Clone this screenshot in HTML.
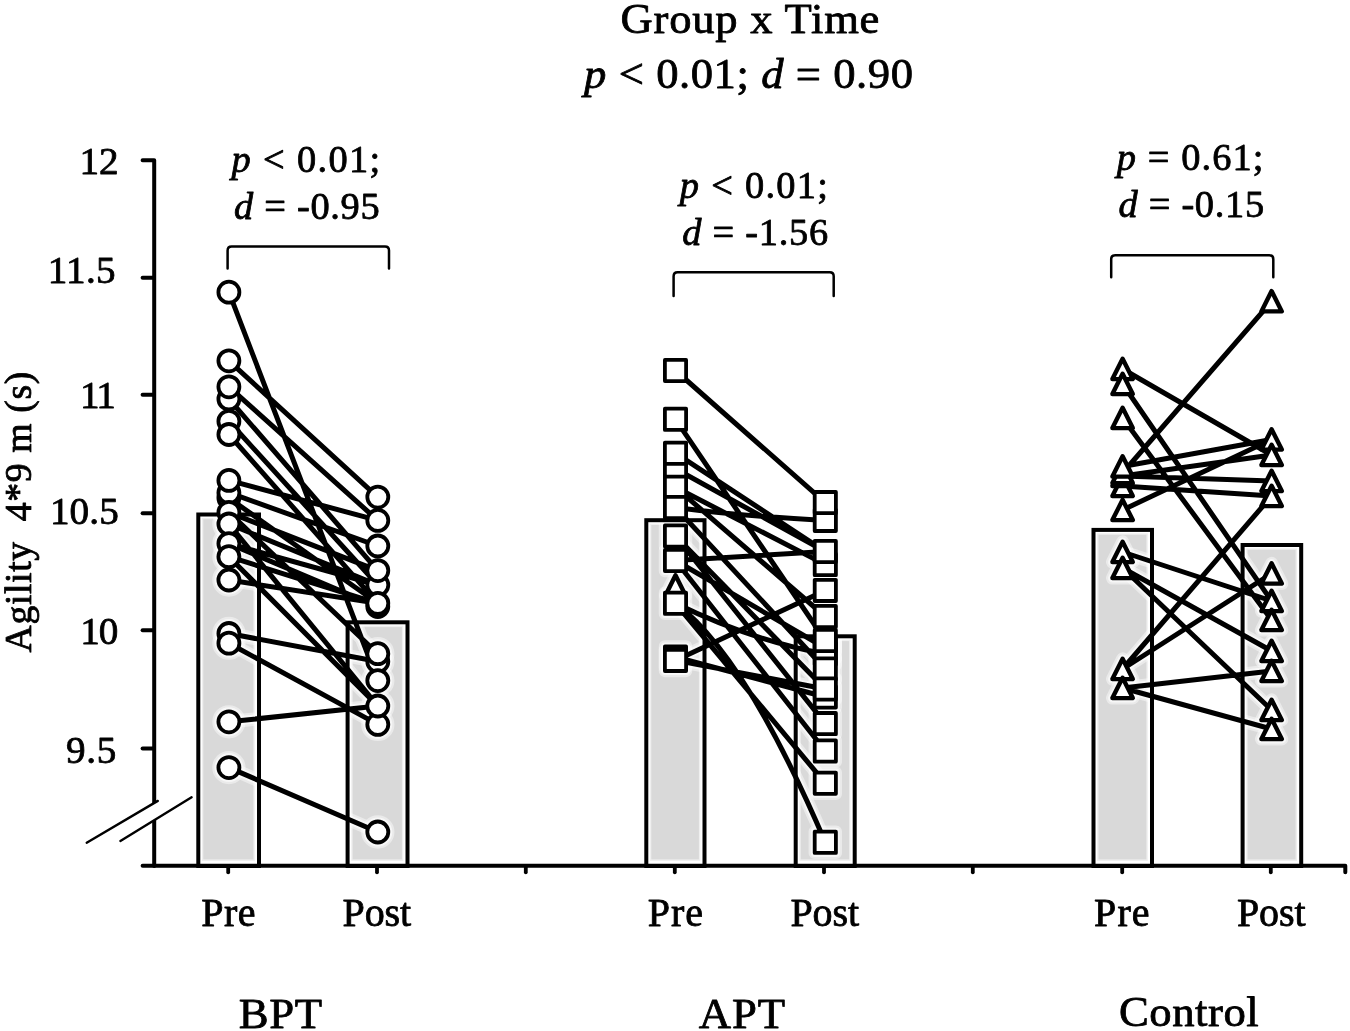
<!DOCTYPE html>
<html lang="en"><head><meta charset="utf-8"><title>Agility 4*9 m - Group x Time</title>
<style>html,body{margin:0;padding:0;background:#fff}body{width:1350px;height:1031px;overflow:hidden}svg{display:block}text{font-family:"Liberation Serif",serif;fill:#000;stroke:#000;stroke-width:0.8px;stroke-linejoin:round}.i{font-style:italic}</style></head><body>
<svg width="1350" height="1031" viewBox="0 0 1350 1031">
<rect width="1350" height="1031" fill="#fff"/>
<g fill="#d9d9d9">
<rect x="201.9" y="517.9" width="52.9" height="343.1" fill="#efefef"/>
<rect x="203.3" y="519.3" width="50.1" height="340.1"/>
<rect x="351.2" y="625.7" width="52.1" height="235.3" fill="#efefef"/>
<rect x="352.6" y="627.1" width="49.3" height="232.3"/>
<rect x="649.9" y="523.6" width="50.4" height="337.4" fill="#efefef"/>
<rect x="651.3" y="525" width="47.6" height="334.4"/>
<rect x="799.3" y="639.7" width="51.2" height="221.3" fill="#efefef"/>
<rect x="800.7" y="641.1" width="48.4" height="218.3"/>
<rect x="1097.1" y="533.3" width="50.7" height="327.7" fill="#efefef"/>
<rect x="1098.5" y="534.7" width="47.9" height="324.7"/>
<rect x="1246.2" y="548.4" width="50.8" height="312.6" fill="#efefef"/>
<rect x="1247.6" y="549.8" width="48" height="309.6"/>
</g>
<g stroke="#fff" stroke-opacity="0.45" fill="none" stroke-linecap="round" stroke-linejoin="round">
<path stroke-width="13.5" d="M228.9 292.2L377.8 680.6M228.9 360.8L377.8 497.1M228.9 386.8L377.8 520.4M228.9 399L377.8 570.6M228.9 421.3L377.8 585M228.9 434.5L377.8 603.3M228.9 480.4L377.8 520.4M228.9 492.7L377.8 546M228.9 498L377.8 603.3M228.9 512.4L377.8 570.6M228.9 512.4L377.8 653.7M228.9 524L377.8 585M228.9 524L377.8 706M228.9 543.6L377.8 585M228.9 543.6L377.8 606.5M228.9 556.7L377.8 706M228.9 556.7L377.8 603.3M228.9 580L377.8 603.3M228.9 633.5L377.8 661.5M228.9 643.2L377.8 724.4M228.9 721.8L377.8 706M228.9 767.6L377.8 832"/>
<path stroke-width="13.5" d="M675.5 370.5L825.3 502.6M675.5 419.3L825.3 640.5M675.5 453.2L825.3 551.5M675.5 468.8L825.3 551.5M675.5 487.3L825.3 564.6M675.5 487.3L825.3 616.5M675.5 507.5Q740 516 825.3 520.4M675.5 507.5L825.3 669M675.5 536L825.3 689M675.5 536L825.3 723.6M675.5 560.5L825.3 551.5M675.5 560.5L825.3 751M675.5 560.5L825.3 648M675.5 603.3Q750 640 825.3 654M675.5 603.3L825.3 783.2M675.5 603.3Q745 655 825.3 842.3M675.5 660.4L825.3 590.4M675.5 660.4L825.3 689M675.5 657L825.3 697"/>
<path stroke-width="13.5" d="M1122.6 369L1271.6 455M1122.6 384L1271.6 601M1122.6 418L1271.6 620M1122.6 473L1271.6 301.3M1122.6 466.5L1271.6 439.5M1122.6 476L1271.6 455M1122.6 476L1271.6 481M1122.6 486L1271.6 496M1122.6 510L1271.6 439.5M1122.6 552L1271.6 601M1122.6 568L1271.6 651M1122.6 568L1271.6 710M1122.6 669L1271.6 573.5M1122.6 669L1271.6 496M1122.6 688L1271.6 671M1122.6 688L1271.6 729"/>
<g stroke-width="12.3">
<circle cx="228.9" cy="399" r="10.5"/>
<circle cx="228.9" cy="386.8" r="10.5"/>
<circle cx="228.9" cy="421.3" r="10.5"/>
<circle cx="228.9" cy="434.5" r="10.5"/>
<circle cx="228.9" cy="498" r="10.5"/>
<circle cx="228.9" cy="492.7" r="10.5"/>
<circle cx="228.9" cy="480.4" r="10.5"/>
<circle cx="228.9" cy="512.4" r="10.5"/>
<circle cx="228.9" cy="524" r="10.5"/>
<circle cx="228.9" cy="543.6" r="10.5"/>
<circle cx="228.9" cy="556.7" r="10.5"/>
<circle cx="228.9" cy="580" r="10.5"/>
<circle cx="228.9" cy="633.5" r="10.5"/>
<circle cx="228.9" cy="643.2" r="10.5"/>
<circle cx="228.9" cy="721.8" r="10.5"/>
<circle cx="228.9" cy="767.6" r="10.5"/>
<circle cx="228.9" cy="360.8" r="10.5"/>
<circle cx="228.9" cy="292.2" r="10.5"/>
<circle cx="377.8" cy="606.5" r="10.5"/>
<circle cx="377.8" cy="585" r="10.5"/>
<circle cx="377.8" cy="570.6" r="10.5"/>
<circle cx="377.8" cy="603.3" r="10.5"/>
<circle cx="377.8" cy="546" r="10.5"/>
<circle cx="377.8" cy="520.4" r="10.5"/>
<circle cx="377.8" cy="497.1" r="10.5"/>
<circle cx="377.8" cy="661.5" r="10.5"/>
<circle cx="377.8" cy="653.7" r="10.5"/>
<circle cx="377.8" cy="680.6" r="10.5"/>
<circle cx="377.8" cy="724.4" r="10.5"/>
<circle cx="377.8" cy="706" r="10.5"/>
<circle cx="377.8" cy="832" r="10.5"/>
<path stroke-width="12.9" d="M675.5 575.3L685.6 595.6L665.4 595.6Z"/>
<rect x="664.9" y="458.2" width="21.2" height="21.2"/>
<rect x="664.9" y="442.6" width="21.2" height="21.2"/>
<rect x="664.9" y="476.7" width="21.2" height="21.2"/>
<rect x="664.9" y="496.9" width="21.2" height="21.2"/>
<rect x="664.9" y="525.4" width="21.2" height="21.2"/>
<rect x="664.9" y="549.9" width="21.2" height="21.2"/>
<rect x="664.9" y="592.7" width="21.2" height="21.2"/>
<rect x="664.9" y="646.4" width="21.2" height="21.2"/>
<rect x="664.9" y="649.8" width="21.2" height="21.2"/>
<rect x="664.9" y="408.7" width="21.2" height="21.2"/>
<rect x="664.9" y="359.9" width="21.2" height="21.2"/>
<rect x="814.7" y="554" width="21.2" height="21.2"/>
<rect x="814.7" y="540.9" width="21.2" height="21.2"/>
<rect x="814.7" y="509.8" width="21.2" height="21.2"/>
<rect x="814.7" y="492" width="21.2" height="21.2"/>
<rect x="814.7" y="579.8" width="21.2" height="21.2"/>
<rect x="814.7" y="605.9" width="21.2" height="21.2"/>
<rect x="814.7" y="637.4" width="21.2" height="21.2"/>
<rect x="814.7" y="643.4" width="21.2" height="21.2"/>
<rect x="814.7" y="629.9" width="21.2" height="21.2"/>
<rect x="814.7" y="658.4" width="21.2" height="21.2"/>
<rect x="814.7" y="686.4" width="21.2" height="21.2"/>
<rect x="814.7" y="678.4" width="21.2" height="21.2"/>
<rect x="814.7" y="713" width="21.2" height="21.2"/>
<rect x="814.7" y="740.4" width="21.2" height="21.2"/>
<rect x="814.7" y="772.6" width="21.2" height="21.2"/>
<rect x="814.7" y="831.7" width="21.2" height="21.2"/>
<path stroke-width="12.9" d="M1122.6 358.8L1132.8 379.1L1112.4 379.1Z"/>
<path stroke-width="12.9" d="M1122.6 373.8L1132.8 394.1L1112.4 394.1Z"/>
<path stroke-width="12.9" d="M1122.6 407.8L1132.8 428.1L1112.4 428.1Z"/>
<path stroke-width="12.9" d="M1122.6 499.8L1132.8 520.1L1112.4 520.1Z"/>
<path stroke-width="12.9" d="M1122.6 475.8L1132.8 496.1L1112.4 496.1Z"/>
<path stroke-width="12.9" d="M1122.6 465.8L1132.8 486.1L1112.4 486.1Z"/>
<path stroke-width="12.9" d="M1122.6 462.8L1132.8 483.1L1112.4 483.1Z"/>
<path stroke-width="12.9" d="M1122.6 456.3L1132.8 476.6L1112.4 476.6Z"/>
<path stroke-width="12.9" d="M1122.6 541.8L1132.8 562.1L1112.4 562.1Z"/>
<path stroke-width="12.9" d="M1122.6 557.8L1132.8 578.1L1112.4 578.1Z"/>
<path stroke-width="12.9" d="M1122.6 658.8L1132.8 679.1L1112.4 679.1Z"/>
<path stroke-width="12.9" d="M1122.6 677.8L1132.8 698.1L1112.4 698.1Z"/>
<path stroke-width="12.9" d="M1271.6 291.1L1281.8 311.4L1261.4 311.4Z"/>
<path stroke-width="12.9" d="M1271.6 429.3L1281.8 449.6L1261.4 449.6Z"/>
<path stroke-width="12.9" d="M1271.6 444.8L1281.8 465.1L1261.4 465.1Z"/>
<path stroke-width="12.9" d="M1271.6 470.8L1281.8 491.1L1261.4 491.1Z"/>
<path stroke-width="12.9" d="M1271.6 485.8L1281.8 506.1L1261.4 506.1Z"/>
<path stroke-width="12.9" d="M1271.6 563.3L1281.8 583.6L1261.4 583.6Z"/>
<path stroke-width="12.9" d="M1271.6 590.8L1281.8 611.1L1261.4 611.1Z"/>
<path stroke-width="12.9" d="M1271.6 609.8L1281.8 630.1L1261.4 630.1Z"/>
<path stroke-width="12.9" d="M1271.6 640.8L1281.8 661.1L1261.4 661.1Z"/>
<path stroke-width="12.9" d="M1271.6 660.8L1281.8 681.1L1261.4 681.1Z"/>
<path stroke-width="12.9" d="M1271.6 699.8L1281.8 720.1L1261.4 720.1Z"/>
<path stroke-width="12.9" d="M1271.6 718.8L1281.8 739.1L1261.4 739.1Z"/>
</g></g>
<g stroke="#fff" stroke-opacity="0.6" fill="none" stroke-linecap="round" stroke-linejoin="round">
<path stroke-width="9.2" d="M228.9 292.2L377.8 680.6M228.9 360.8L377.8 497.1M228.9 386.8L377.8 520.4M228.9 399L377.8 570.6M228.9 421.3L377.8 585M228.9 434.5L377.8 603.3M228.9 480.4L377.8 520.4M228.9 492.7L377.8 546M228.9 498L377.8 603.3M228.9 512.4L377.8 570.6M228.9 512.4L377.8 653.7M228.9 524L377.8 585M228.9 524L377.8 706M228.9 543.6L377.8 585M228.9 543.6L377.8 606.5M228.9 556.7L377.8 706M228.9 556.7L377.8 603.3M228.9 580L377.8 603.3M228.9 633.5L377.8 661.5M228.9 643.2L377.8 724.4M228.9 721.8L377.8 706M228.9 767.6L377.8 832"/>
<path stroke-width="9.2" d="M675.5 370.5L825.3 502.6M675.5 419.3L825.3 640.5M675.5 453.2L825.3 551.5M675.5 468.8L825.3 551.5M675.5 487.3L825.3 564.6M675.5 487.3L825.3 616.5M675.5 507.5Q740 516 825.3 520.4M675.5 507.5L825.3 669M675.5 536L825.3 689M675.5 536L825.3 723.6M675.5 560.5L825.3 551.5M675.5 560.5L825.3 751M675.5 560.5L825.3 648M675.5 603.3Q750 640 825.3 654M675.5 603.3L825.3 783.2M675.5 603.3Q745 655 825.3 842.3M675.5 660.4L825.3 590.4M675.5 660.4L825.3 689M675.5 657L825.3 697"/>
<path stroke-width="9.2" d="M1122.6 369L1271.6 455M1122.6 384L1271.6 601M1122.6 418L1271.6 620M1122.6 473L1271.6 301.3M1122.6 466.5L1271.6 439.5M1122.6 476L1271.6 455M1122.6 476L1271.6 481M1122.6 486L1271.6 496M1122.6 510L1271.6 439.5M1122.6 552L1271.6 601M1122.6 568L1271.6 651M1122.6 568L1271.6 710M1122.6 669L1271.6 573.5M1122.6 669L1271.6 496M1122.6 688L1271.6 671M1122.6 688L1271.6 729"/>
<g stroke-width="8">
<circle cx="228.9" cy="399" r="10.5"/>
<circle cx="228.9" cy="386.8" r="10.5"/>
<circle cx="228.9" cy="421.3" r="10.5"/>
<circle cx="228.9" cy="434.5" r="10.5"/>
<circle cx="228.9" cy="498" r="10.5"/>
<circle cx="228.9" cy="492.7" r="10.5"/>
<circle cx="228.9" cy="480.4" r="10.5"/>
<circle cx="228.9" cy="512.4" r="10.5"/>
<circle cx="228.9" cy="524" r="10.5"/>
<circle cx="228.9" cy="543.6" r="10.5"/>
<circle cx="228.9" cy="556.7" r="10.5"/>
<circle cx="228.9" cy="580" r="10.5"/>
<circle cx="228.9" cy="633.5" r="10.5"/>
<circle cx="228.9" cy="643.2" r="10.5"/>
<circle cx="228.9" cy="721.8" r="10.5"/>
<circle cx="228.9" cy="767.6" r="10.5"/>
<circle cx="228.9" cy="360.8" r="10.5"/>
<circle cx="228.9" cy="292.2" r="10.5"/>
<circle cx="377.8" cy="606.5" r="10.5"/>
<circle cx="377.8" cy="585" r="10.5"/>
<circle cx="377.8" cy="570.6" r="10.5"/>
<circle cx="377.8" cy="603.3" r="10.5"/>
<circle cx="377.8" cy="546" r="10.5"/>
<circle cx="377.8" cy="520.4" r="10.5"/>
<circle cx="377.8" cy="497.1" r="10.5"/>
<circle cx="377.8" cy="661.5" r="10.5"/>
<circle cx="377.8" cy="653.7" r="10.5"/>
<circle cx="377.8" cy="680.6" r="10.5"/>
<circle cx="377.8" cy="724.4" r="10.5"/>
<circle cx="377.8" cy="706" r="10.5"/>
<circle cx="377.8" cy="832" r="10.5"/>
<path stroke-width="8.6" d="M675.5 575.3L685.6 595.6L665.4 595.6Z"/>
<rect x="664.9" y="458.2" width="21.2" height="21.2"/>
<rect x="664.9" y="442.6" width="21.2" height="21.2"/>
<rect x="664.9" y="476.7" width="21.2" height="21.2"/>
<rect x="664.9" y="496.9" width="21.2" height="21.2"/>
<rect x="664.9" y="525.4" width="21.2" height="21.2"/>
<rect x="664.9" y="549.9" width="21.2" height="21.2"/>
<rect x="664.9" y="592.7" width="21.2" height="21.2"/>
<rect x="664.9" y="646.4" width="21.2" height="21.2"/>
<rect x="664.9" y="649.8" width="21.2" height="21.2"/>
<rect x="664.9" y="408.7" width="21.2" height="21.2"/>
<rect x="664.9" y="359.9" width="21.2" height="21.2"/>
<rect x="814.7" y="554" width="21.2" height="21.2"/>
<rect x="814.7" y="540.9" width="21.2" height="21.2"/>
<rect x="814.7" y="509.8" width="21.2" height="21.2"/>
<rect x="814.7" y="492" width="21.2" height="21.2"/>
<rect x="814.7" y="579.8" width="21.2" height="21.2"/>
<rect x="814.7" y="605.9" width="21.2" height="21.2"/>
<rect x="814.7" y="637.4" width="21.2" height="21.2"/>
<rect x="814.7" y="643.4" width="21.2" height="21.2"/>
<rect x="814.7" y="629.9" width="21.2" height="21.2"/>
<rect x="814.7" y="658.4" width="21.2" height="21.2"/>
<rect x="814.7" y="686.4" width="21.2" height="21.2"/>
<rect x="814.7" y="678.4" width="21.2" height="21.2"/>
<rect x="814.7" y="713" width="21.2" height="21.2"/>
<rect x="814.7" y="740.4" width="21.2" height="21.2"/>
<rect x="814.7" y="772.6" width="21.2" height="21.2"/>
<rect x="814.7" y="831.7" width="21.2" height="21.2"/>
<path stroke-width="8.6" d="M1122.6 358.8L1132.8 379.1L1112.4 379.1Z"/>
<path stroke-width="8.6" d="M1122.6 373.8L1132.8 394.1L1112.4 394.1Z"/>
<path stroke-width="8.6" d="M1122.6 407.8L1132.8 428.1L1112.4 428.1Z"/>
<path stroke-width="8.6" d="M1122.6 499.8L1132.8 520.1L1112.4 520.1Z"/>
<path stroke-width="8.6" d="M1122.6 475.8L1132.8 496.1L1112.4 496.1Z"/>
<path stroke-width="8.6" d="M1122.6 465.8L1132.8 486.1L1112.4 486.1Z"/>
<path stroke-width="8.6" d="M1122.6 462.8L1132.8 483.1L1112.4 483.1Z"/>
<path stroke-width="8.6" d="M1122.6 456.3L1132.8 476.6L1112.4 476.6Z"/>
<path stroke-width="8.6" d="M1122.6 541.8L1132.8 562.1L1112.4 562.1Z"/>
<path stroke-width="8.6" d="M1122.6 557.8L1132.8 578.1L1112.4 578.1Z"/>
<path stroke-width="8.6" d="M1122.6 658.8L1132.8 679.1L1112.4 679.1Z"/>
<path stroke-width="8.6" d="M1122.6 677.8L1132.8 698.1L1112.4 698.1Z"/>
<path stroke-width="8.6" d="M1271.6 291.1L1281.8 311.4L1261.4 311.4Z"/>
<path stroke-width="8.6" d="M1271.6 429.3L1281.8 449.6L1261.4 449.6Z"/>
<path stroke-width="8.6" d="M1271.6 444.8L1281.8 465.1L1261.4 465.1Z"/>
<path stroke-width="8.6" d="M1271.6 470.8L1281.8 491.1L1261.4 491.1Z"/>
<path stroke-width="8.6" d="M1271.6 485.8L1281.8 506.1L1261.4 506.1Z"/>
<path stroke-width="8.6" d="M1271.6 563.3L1281.8 583.6L1261.4 583.6Z"/>
<path stroke-width="8.6" d="M1271.6 590.8L1281.8 611.1L1261.4 611.1Z"/>
<path stroke-width="8.6" d="M1271.6 609.8L1281.8 630.1L1261.4 630.1Z"/>
<path stroke-width="8.6" d="M1271.6 640.8L1281.8 661.1L1261.4 661.1Z"/>
<path stroke-width="8.6" d="M1271.6 660.8L1281.8 681.1L1261.4 681.1Z"/>
<path stroke-width="8.6" d="M1271.6 699.8L1281.8 720.1L1261.4 720.1Z"/>
<path stroke-width="8.6" d="M1271.6 718.8L1281.8 739.1L1261.4 739.1Z"/>
</g></g>
<g fill="none" stroke="#000" stroke-width="4.0" stroke-linejoin="miter">
<rect x="198.3" y="514.5" width="60.7" height="351.5"/>
<rect x="347.6" y="622.3" width="59.9" height="243.7"/>
<rect x="646.3" y="520.2" width="58.2" height="345.8"/>
<rect x="795.7" y="636.3" width="59" height="229.7"/>
<rect x="1093.5" y="529.9" width="58.5" height="336.1"/>
<rect x="1242.6" y="545" width="58.6" height="321"/>
</g>
<g stroke="#000" stroke-width="4.0" fill="none" stroke-linecap="butt">
<path d="M142.6 160.2H154.2V866" stroke-linejoin="round" stroke-linecap="round"/>
<path d="M142.6 865.8H1345.3V872.2" stroke-linecap="round" stroke-linejoin="round"/>
<path d="M142.6 277.7H153" stroke-linecap="round"/>
<path d="M142.6 394.7H153" stroke-linecap="round"/>
<path d="M142.6 513.2H153" stroke-linecap="round"/>
<path d="M142.6 630.2H153" stroke-linecap="round"/>
<path d="M142.6 748.4H153" stroke-linecap="round"/>
</g>
<g stroke="#000" stroke-width="3.8" fill="none" stroke-linecap="round">
<path d="M228.2 866V872.3"/>
<path d="M377 866V872.3"/>
<path d="M525.8 866V872.3"/>
<path d="M674.8 866V872.3"/>
<path d="M824 866V872.3"/>
<path d="M972.8 866V872.3"/>
<path d="M1122.2 866V872.3"/>
<path d="M1270.8 866V872.3"/>
</g>
<path d="M86.7 842.7L157.8 800.9L191.6 797.3L120.4 840.9Z" fill="#fff"/>
<g stroke="#000" stroke-width="2.4" fill="none" stroke-linecap="round"><path d="M86.7 842.7L157.8 800.9"/><path d="M120.4 840.9L191.6 797.3"/></g>
<path stroke="#000" stroke-width="5.0" fill="none" stroke-linecap="round" d="M228.9 292.2L377.8 680.6M228.9 360.8L377.8 497.1M228.9 386.8L377.8 520.4M228.9 399L377.8 570.6M228.9 421.3L377.8 585M228.9 434.5L377.8 603.3M228.9 480.4L377.8 520.4M228.9 492.7L377.8 546M228.9 498L377.8 603.3M228.9 512.4L377.8 570.6M228.9 512.4L377.8 653.7M228.9 524L377.8 585M228.9 524L377.8 706M228.9 543.6L377.8 585M228.9 543.6L377.8 606.5M228.9 556.7L377.8 706M228.9 556.7L377.8 603.3M228.9 580L377.8 603.3M228.9 633.5L377.8 661.5M228.9 643.2L377.8 724.4M228.9 721.8L377.8 706M228.9 767.6L377.8 832"/>
<g stroke="#000" stroke-width="3.8" fill="#fff" stroke-linejoin="round">
<circle cx="228.9" cy="399" r="10.5"/>
<circle cx="228.9" cy="386.8" r="10.5"/>
<circle cx="228.9" cy="421.3" r="10.5"/>
<circle cx="228.9" cy="434.5" r="10.5"/>
<circle cx="228.9" cy="498" r="10.5"/>
<circle cx="228.9" cy="492.7" r="10.5"/>
<circle cx="228.9" cy="480.4" r="10.5"/>
<circle cx="228.9" cy="512.4" r="10.5"/>
<circle cx="228.9" cy="524" r="10.5"/>
<circle cx="228.9" cy="543.6" r="10.5"/>
<circle cx="228.9" cy="556.7" r="10.5"/>
<circle cx="228.9" cy="580" r="10.5"/>
<circle cx="228.9" cy="633.5" r="10.5"/>
<circle cx="228.9" cy="643.2" r="10.5"/>
<circle cx="228.9" cy="721.8" r="10.5"/>
<circle cx="228.9" cy="767.6" r="10.5"/>
<circle cx="228.9" cy="360.8" r="10.5"/>
<circle cx="228.9" cy="292.2" r="10.5"/>
<circle cx="377.8" cy="606.5" r="10.5"/>
<circle cx="377.8" cy="585" r="10.5"/>
<circle cx="377.8" cy="570.6" r="10.5"/>
<circle cx="377.8" cy="603.3" r="10.5"/>
<circle cx="377.8" cy="546" r="10.5"/>
<circle cx="377.8" cy="520.4" r="10.5"/>
<circle cx="377.8" cy="497.1" r="10.5"/>
<circle cx="377.8" cy="661.5" r="10.5"/>
<circle cx="377.8" cy="653.7" r="10.5"/>
<circle cx="377.8" cy="680.6" r="10.5"/>
<circle cx="377.8" cy="724.4" r="10.5"/>
<circle cx="377.8" cy="706" r="10.5"/>
<circle cx="377.8" cy="832" r="10.5"/>
</g>
<path stroke="#000" stroke-width="5.0" fill="none" stroke-linecap="round" d="M675.5 370.5L825.3 502.6M675.5 419.3L825.3 640.5M675.5 453.2L825.3 551.5M675.5 468.8L825.3 551.5M675.5 487.3L825.3 564.6M675.5 487.3L825.3 616.5M675.5 507.5Q740 516 825.3 520.4M675.5 507.5L825.3 669M675.5 536L825.3 689M675.5 536L825.3 723.6M675.5 560.5L825.3 551.5M675.5 560.5L825.3 751M675.5 560.5L825.3 648M675.5 603.3Q750 640 825.3 654M675.5 603.3L825.3 783.2M675.5 603.3Q745 655 825.3 842.3M675.5 660.4L825.3 590.4M675.5 660.4L825.3 689M675.5 657L825.3 697"/>
<g stroke="#000" stroke-width="3.8" fill="#fff" stroke-linejoin="round">
<path stroke-width="4.4" d="M675.5 575.3L685.6 595.6L665.4 595.6Z"/>
<rect x="664.9" y="458.2" width="21.2" height="21.2"/>
<rect x="664.9" y="442.6" width="21.2" height="21.2"/>
<rect x="664.9" y="476.7" width="21.2" height="21.2"/>
<rect x="664.9" y="496.9" width="21.2" height="21.2"/>
<rect x="664.9" y="525.4" width="21.2" height="21.2"/>
<rect x="664.9" y="549.9" width="21.2" height="21.2"/>
<rect x="664.9" y="592.7" width="21.2" height="21.2"/>
<rect x="664.9" y="646.4" width="21.2" height="21.2"/>
<rect x="664.9" y="649.8" width="21.2" height="21.2"/>
<rect x="664.9" y="408.7" width="21.2" height="21.2"/>
<rect x="664.9" y="359.9" width="21.2" height="21.2"/>
<rect x="814.7" y="554" width="21.2" height="21.2"/>
<rect x="814.7" y="540.9" width="21.2" height="21.2"/>
<rect x="814.7" y="509.8" width="21.2" height="21.2"/>
<rect x="814.7" y="492" width="21.2" height="21.2"/>
<rect x="814.7" y="579.8" width="21.2" height="21.2"/>
<rect x="814.7" y="605.9" width="21.2" height="21.2"/>
<rect x="814.7" y="637.4" width="21.2" height="21.2"/>
<rect x="814.7" y="643.4" width="21.2" height="21.2"/>
<rect x="814.7" y="629.9" width="21.2" height="21.2"/>
<rect x="814.7" y="658.4" width="21.2" height="21.2"/>
<rect x="814.7" y="686.4" width="21.2" height="21.2"/>
<rect x="814.7" y="678.4" width="21.2" height="21.2"/>
<rect x="814.7" y="713" width="21.2" height="21.2"/>
<rect x="814.7" y="740.4" width="21.2" height="21.2"/>
<rect x="814.7" y="772.6" width="21.2" height="21.2"/>
<rect x="814.7" y="831.7" width="21.2" height="21.2"/>
</g>
<path stroke="#000" stroke-width="5.0" fill="none" stroke-linecap="round" d="M1122.6 369L1271.6 455M1122.6 384L1271.6 601M1122.6 418L1271.6 620M1122.6 473L1271.6 301.3M1122.6 466.5L1271.6 439.5M1122.6 476L1271.6 455M1122.6 476L1271.6 481M1122.6 486L1271.6 496M1122.6 510L1271.6 439.5M1122.6 552L1271.6 601M1122.6 568L1271.6 651M1122.6 568L1271.6 710M1122.6 669L1271.6 573.5M1122.6 669L1271.6 496M1122.6 688L1271.6 671M1122.6 688L1271.6 729"/>
<g stroke="#000" stroke-width="3.8" fill="#fff" stroke-linejoin="round">
<path stroke-width="4.4" d="M1122.6 358.8L1132.8 379.1L1112.4 379.1Z"/>
<path stroke-width="4.4" d="M1122.6 373.8L1132.8 394.1L1112.4 394.1Z"/>
<path stroke-width="4.4" d="M1122.6 407.8L1132.8 428.1L1112.4 428.1Z"/>
<path stroke-width="4.4" d="M1122.6 499.8L1132.8 520.1L1112.4 520.1Z"/>
<path stroke-width="4.4" d="M1122.6 475.8L1132.8 496.1L1112.4 496.1Z"/>
<path stroke-width="4.4" d="M1122.6 465.8L1132.8 486.1L1112.4 486.1Z"/>
<path stroke-width="4.4" d="M1122.6 462.8L1132.8 483.1L1112.4 483.1Z"/>
<path stroke-width="4.4" d="M1122.6 456.3L1132.8 476.6L1112.4 476.6Z"/>
<path stroke-width="4.4" d="M1122.6 541.8L1132.8 562.1L1112.4 562.1Z"/>
<path stroke-width="4.4" d="M1122.6 557.8L1132.8 578.1L1112.4 578.1Z"/>
<path stroke-width="4.4" d="M1122.6 658.8L1132.8 679.1L1112.4 679.1Z"/>
<path stroke-width="4.4" d="M1122.6 677.8L1132.8 698.1L1112.4 698.1Z"/>
<path stroke-width="4.4" d="M1271.6 291.1L1281.8 311.4L1261.4 311.4Z"/>
<path stroke-width="4.4" d="M1271.6 429.3L1281.8 449.6L1261.4 449.6Z"/>
<path stroke-width="4.4" d="M1271.6 444.8L1281.8 465.1L1261.4 465.1Z"/>
<path stroke-width="4.4" d="M1271.6 470.8L1281.8 491.1L1261.4 491.1Z"/>
<path stroke-width="4.4" d="M1271.6 485.8L1281.8 506.1L1261.4 506.1Z"/>
<path stroke-width="4.4" d="M1271.6 563.3L1281.8 583.6L1261.4 583.6Z"/>
<path stroke-width="4.4" d="M1271.6 590.8L1281.8 611.1L1261.4 611.1Z"/>
<path stroke-width="4.4" d="M1271.6 609.8L1281.8 630.1L1261.4 630.1Z"/>
<path stroke-width="4.4" d="M1271.6 640.8L1281.8 661.1L1261.4 661.1Z"/>
<path stroke-width="4.4" d="M1271.6 660.8L1281.8 681.1L1261.4 681.1Z"/>
<path stroke-width="4.4" d="M1271.6 699.8L1281.8 720.1L1261.4 720.1Z"/>
<path stroke-width="4.4" d="M1271.6 718.8L1281.8 739.1L1261.4 739.1Z"/>
</g>
<path d="M227.6 268.6V250.6Q227.6 246.6 231.6 246.6H385Q389 246.6 389 250.6V268.6" fill="none" stroke="#000" stroke-width="2.5" stroke-linecap="round"/>
<path d="M673.6 295.9V276.2Q673.6 272.2 677.6 272.2H829.7Q833.7 272.2 833.7 276.2V295.9" fill="none" stroke="#000" stroke-width="2.5" stroke-linecap="round"/>
<path d="M1111.2 277.2V259.2Q1111.2 255.2 1115.2 255.2H1269.3Q1273.3 255.2 1273.3 259.2V277.2" fill="none" stroke="#000" stroke-width="2.5" stroke-linecap="round"/>
<text transform="translate(620.5 33.4) scale(1.05 1)" font-size="42.5" textLength="246.6" lengthAdjust="spacing">Group x Time</text>
<text transform="translate(584.1 88.2) scale(1.05 1)" font-size="42.5" textLength="313.2" lengthAdjust="spacing"><tspan class="i">p</tspan> &lt; 0.01; <tspan class="i">d</tspan> = 0.90</text>
<text x="231.6" y="172.1" font-size="38.4" textLength="148.5" lengthAdjust="spacing"><tspan class="i">p</tspan> &lt; 0.01;</text>
<text x="234" y="219" font-size="38.4" textLength="145.7" lengthAdjust="spacing"><tspan class="i">d</tspan> = -0.95</text>
<text x="679.8" y="198" font-size="38.4" textLength="148.2" lengthAdjust="spacing"><tspan class="i">p</tspan> &lt; 0.01;</text>
<text x="682.2" y="245.2" font-size="38.4" textLength="146" lengthAdjust="spacing"><tspan class="i">d</tspan> = -1.56</text>
<text x="1116.8" y="170" font-size="38.4" textLength="146.6" lengthAdjust="spacing"><tspan class="i">p</tspan> = 0.61;</text>
<text x="1118.6" y="217.2" font-size="38.4" textLength="145.5" lengthAdjust="spacing"><tspan class="i">d</tspan> = -0.15</text>
<text transform="translate(79.5 173.6) scale(1.03 1)" font-size="38" textLength="38" lengthAdjust="spacing">12</text>
<text transform="translate(47.7 282.7) scale(1.03 1)" font-size="38" textLength="66" lengthAdjust="spacing">11.5</text>
<text transform="translate(79.9 407.9) scale(1.03 1)" font-size="38" textLength="34.8" lengthAdjust="spacing">11</text>
<text transform="translate(49.9 524.1) scale(1.03 1)" font-size="38" textLength="66.9" lengthAdjust="spacing">10.5</text>
<text transform="translate(80.3 643.6) scale(1.03 1)" font-size="38" textLength="36.8" lengthAdjust="spacing">10</text>
<text transform="translate(66 763.4) scale(1.03 1)" font-size="38" textLength="48.8" lengthAdjust="spacing">9.5</text>
<text x="201.2" y="926" font-size="40" textLength="54.4" lengthAdjust="spacing">Pre</text>
<text x="342.6" y="926" font-size="40" textLength="68.4" lengthAdjust="spacing">Post</text>
<text x="647.8" y="926" font-size="40" textLength="55.1" lengthAdjust="spacing">Pre</text>
<text x="790.4" y="926" font-size="40" textLength="68.8" lengthAdjust="spacing">Post</text>
<text x="1094" y="926" font-size="40" textLength="55.6" lengthAdjust="spacing">Pre</text>
<text x="1237" y="926" font-size="40" textLength="68.5" lengthAdjust="spacing">Post</text>
<text transform="translate(238.8 1028.2) scale(1.04 1)" font-size="43" textLength="80" lengthAdjust="spacing">BPT</text>
<text transform="translate(698.8 1028) scale(1.04 1)" font-size="43" textLength="82.9" lengthAdjust="spacing">APT</text>
<text transform="translate(1119 1025.6) scale(1.04 1)" font-size="43" textLength="134.4" lengthAdjust="spacing">Control</text>
<text transform="translate(31.4 652.4) rotate(-90)" font-size="37.7" textLength="280.7" lengthAdjust="spacing" xml:space="preserve" style="white-space:pre">Agility  4*9 m (s)</text>
</svg></body></html>
